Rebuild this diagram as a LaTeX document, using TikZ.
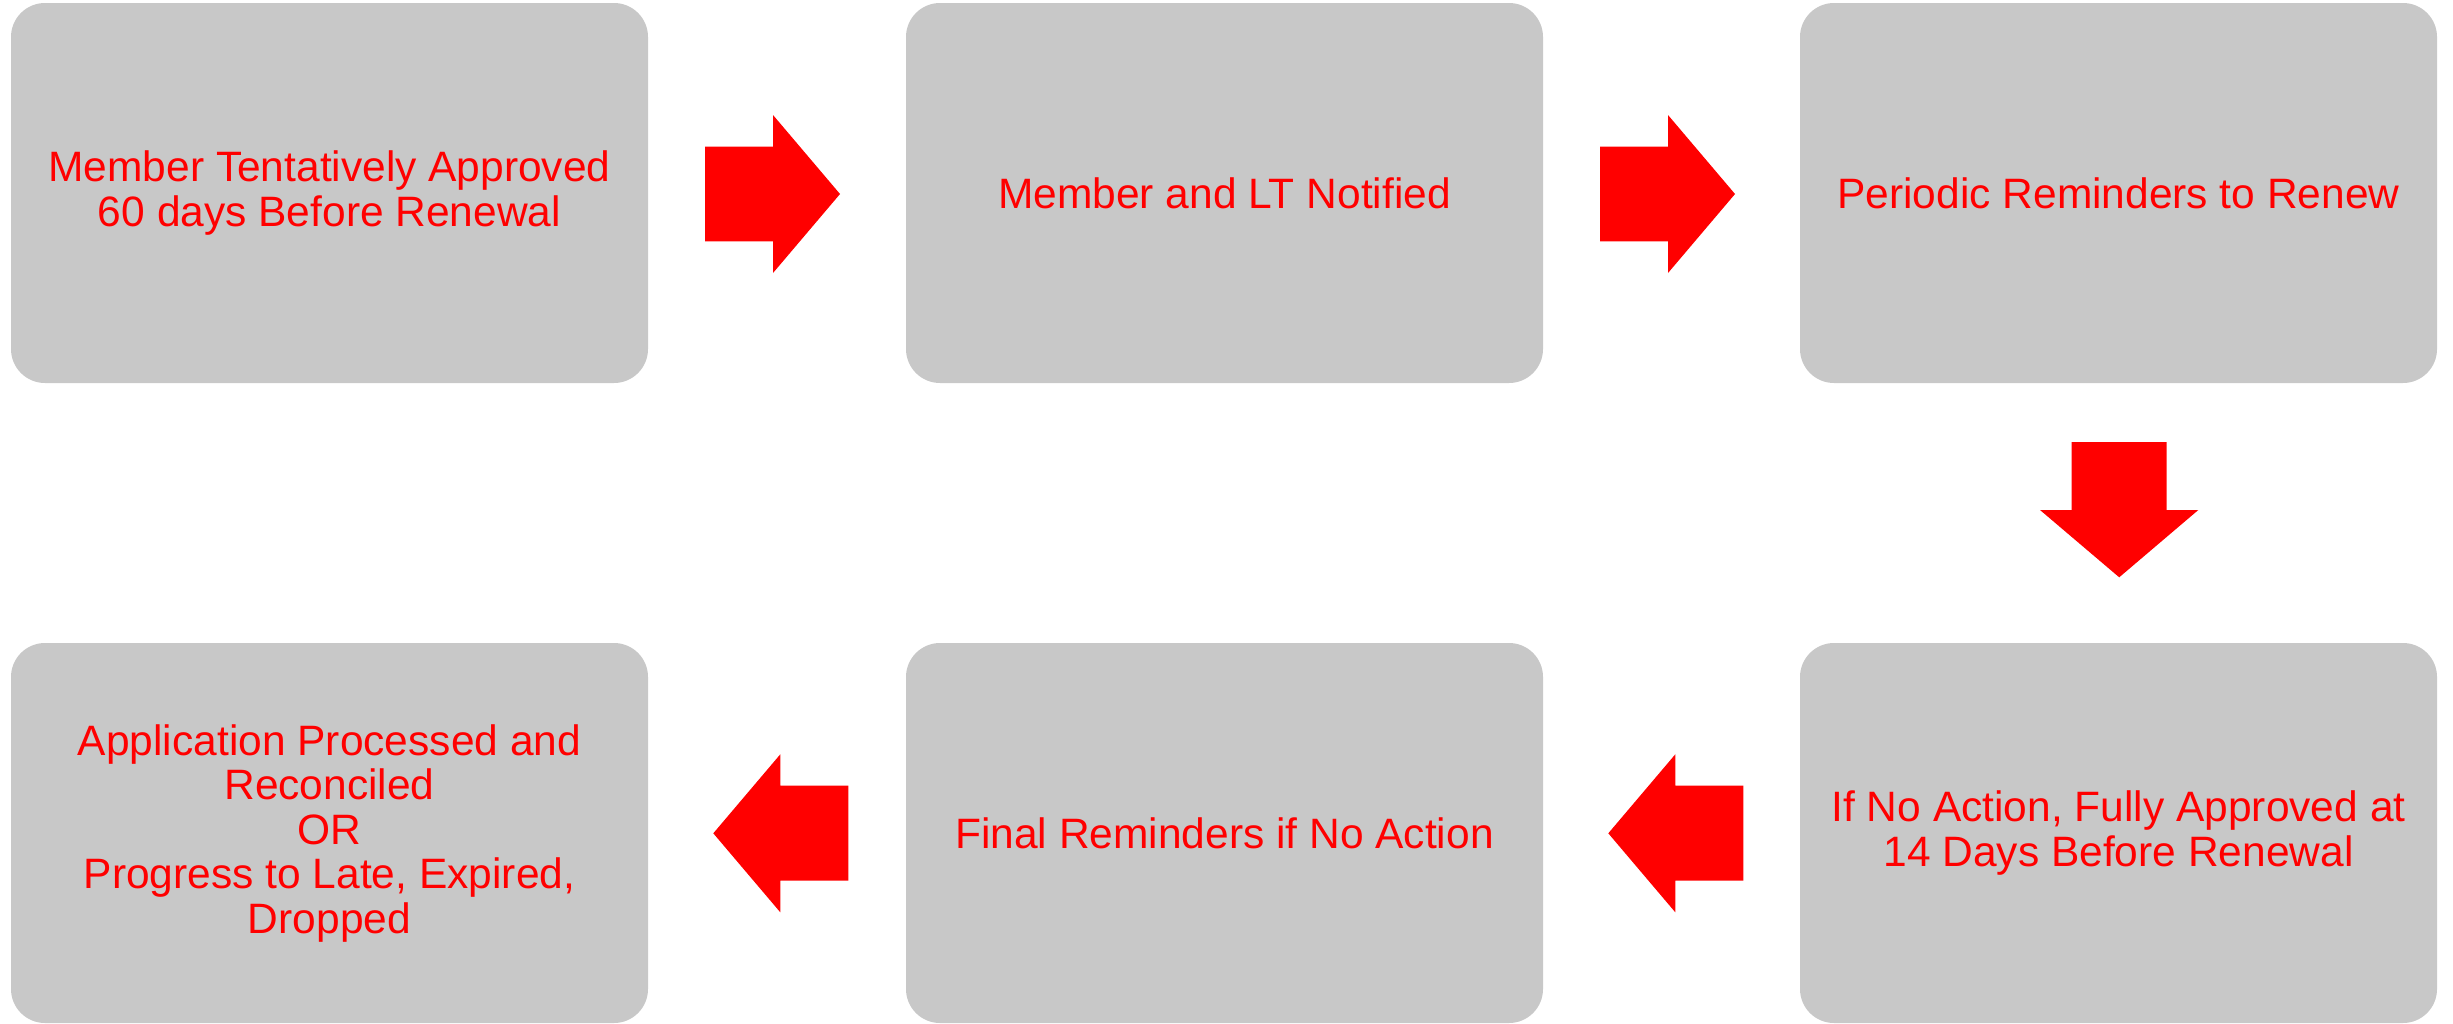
\documentclass[tikz,border=0pt]{standalone}
\usepackage{fontspec}
\setmainfont{Liberation Sans}
\definecolor{boxgray}{RGB}{200,200,200}
\definecolor{txtred}{RGB}{255,0,0}
\begin{document}
\begin{tikzpicture}[x=1pt,y=-1pt,
  stepbox/.style={rectangle,rounded corners=34pt,fill=boxgray,draw=none,
    minimum width=637pt,minimum height=380pt,inner sep=0pt,align=center,
    text=txtred,font=\fontsize{42.5}{44.5}\selectfont},
  blockarrow/.style={fill=txtred,draw=none}]
\useasboundingbox[fill=white] (0,0) rectangle (2453,1023);
\node[stepbox] (b1) at (329.5,193) {Member Tentatively Approved\\60 days Before Renewal};
\node[stepbox] (b2) at (1224.5,193) {Member and LT Notified};
\node[stepbox] (b3) at (2118.5,193) {Periodic Reminders to Renew};
\node[stepbox] (b4) at (2118.5,833) {If No Action, Fully Approved at\\14 Days Before Renewal};
\node[stepbox] (b5) at (1224.5,833) {Final Reminders if No Action};
\node[stepbox] (b6) at (329.5,833) {Application Processed and\\Reconciled\\OR\\Progress to Late, Expired,\\Dropped};
% right arrows
\foreach \dx in {0,895}{
  \fill[blockarrow] (705+\dx,146.7) -- (773+\dx,146.7) -- (773+\dx,115) -- (840+\dx,194)
    -- (773+\dx,273) -- (773+\dx,241.3) -- (705+\dx,241.3) -- cycle;
}
% down arrow
\fill[blockarrow] (2071.7,442) -- (2166.7,442) -- (2166.7,510) -- (2198.3,510)
  -- (2119.2,577.3) -- (2040,510) -- (2071.7,510) -- cycle;
% left arrows
\foreach \dx in {0,895}{
  \fill[blockarrow] (848.3+\dx,785.7) -- (780.3+\dx,785.7) -- (780.3+\dx,754.3) -- (713.3+\dx,833.3)
    -- (780.3+\dx,912.3) -- (780.3+\dx,880.7) -- (848.3+\dx,880.7) -- cycle;
}
\end{tikzpicture}
\end{document}
